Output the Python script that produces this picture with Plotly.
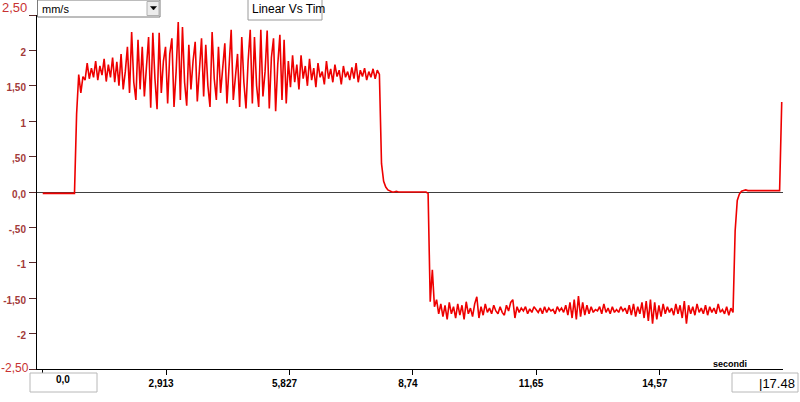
import plotly.graph_objects as go

# ---------------- data ----------------
SAMPLE_PERIOD_S = 0.05  # time between samples, seconds

idle_start = [-0.02, -0.02, -0.01, -0.02, -0.02, -0.02, -0.01, -0.02,
              -0.02, -0.02, -0.01, -0.02, -0.02, -0.02, -0.01, -0.02]
rise_up = [1.10, 1.66, 1.40, 1.63]
forward_run = [
    1.58, 1.82, 1.60, 1.75, 1.62, 1.85, 1.58, 1.78, 1.65, 1.88, 1.56, 1.80, 1.62, 1.90, 1.55, 1.84, 1.50,
    1.95, 1.45, 1.70, 2.05, 1.40, 2.26, 1.55, 1.30, 2.15, 1.45, 2.05, 1.35, 1.75, 2.19, 1.19, 2.25,
    1.60, 1.17, 2.25, 1.40, 1.85, 2.05, 1.25, 1.95, 2.17, 1.20, 1.70, 2.40, 1.30, 2.33, 1.55, 1.22,
    2.08, 1.45, 1.85, 2.12, 1.28, 1.75, 2.17, 1.35, 2.08, 1.50, 1.20, 2.26, 1.60, 1.30, 2.05, 1.40,
    1.75, 2.10, 1.25, 1.80, 2.29, 1.30, 1.65, 1.95, 1.20, 2.19, 1.55, 1.18, 1.85, 2.29, 1.25, 2.19,
    1.50, 1.20, 2.29, 1.35, 1.70, 2.28, 1.18, 1.90, 2.17, 1.14, 1.80, 2.22, 1.30, 2.15, 1.25, 1.85,
    1.48, 1.93, 1.55, 1.80, 1.45, 1.93, 1.60, 1.78, 1.50, 1.88,
    1.58, 1.75, 1.48, 1.82, 1.62, 1.70, 1.52, 1.85, 1.60, 1.74, 1.55, 1.80, 1.63, 1.72, 1.52, 1.78,
    1.62, 1.70, 1.58, 1.76, 1.60, 1.82, 1.55, 1.72, 1.63, 1.75, 1.58, 1.70, 1.62, 1.74, 1.60, 1.72, 1.66,
]
stop_forward = [0.40, 0.15, 0.07, 0.03, 0.01]
idle_middle = [0.00, 0.00, 0.01, 0.00, 0.00, 0.00, 0.01, 0.00, 0.00,
               0.00, 0.00, 0.01, 0.00, 0.00, 0.00, 0.00, 0.00, -0.02]
start_reverse = [-1.55, -1.10, -1.62, -1.52]
reverse_run = [
    -1.72, -1.58, -1.76, -1.60, -1.80, -1.56, -1.72, -1.62, -1.78, -1.58,
    -1.74, -1.60, -1.80, -1.55, -1.72, -1.64, -1.76, -1.58, -1.48, -1.78,
    -1.62, -1.74, -1.58, -1.70, -1.64, -1.72, -1.60, -1.68, -1.72, -1.62,
    -1.70, -1.74, -1.60, -1.68, -1.56, -1.52, -1.78, -1.62, -1.70, -1.64,
    -1.68, -1.62, -1.72, -1.65, -1.70, -1.62, -1.67, -1.70, -1.64, -1.72,
    -1.62, -1.70, -1.64, -1.68, -1.66, -1.72, -1.62, -1.68, -1.64, -1.70,
    -1.60, -1.74, -1.56, -1.78, -1.52, -1.80, -1.47, -1.76, -1.56, -1.74,
    -1.60, -1.72, -1.62, -1.70, -1.66, -1.68, -1.62, -1.72, -1.58, -1.70,
    -1.64, -1.72, -1.62, -1.70, -1.66, -1.70, -1.62, -1.68, -1.64, -1.72,
    -1.60, -1.74, -1.58, -1.76, -1.62, -1.72, -1.56, -1.78, -1.54, -1.82,
    -1.52, -1.86, -1.56, -1.80, -1.60, -1.76, -1.58, -1.72, -1.62, -1.70,
    -1.64, -1.74, -1.58, -1.72, -1.60, -1.78, -1.54, -1.86, -1.60, -1.72,
    -1.62, -1.74, -1.58, -1.70, -1.64, -1.72, -1.60, -1.74, -1.62, -1.70,
    -1.64, -1.72, -1.58, -1.70, -1.66, -1.72, -1.62, -1.74, -1.64, -1.70,
]
stop_reverse = [-0.55, -0.12, -0.03]
idle_end = [0.01, 0.02, 0.03, 0.02, 0.02, 0.02, 0.02, 0.02, 0.01, 0.02,
            0.02, 0.02, 0.02, 0.02, 0.02, 0.02, 0.02, 0.02, 0.02]
final_spike = [1.27]

y_tick_values = [2.5, 2, 1.5, 1, 0.5, 0, -0.5, -1, -1.5, -2, -2.5]
y_tick_labels = ["", "2", "1,50", "1", ",50", "0,0", "-,50", "-1", "-1,50", "-2", ""]
x_tick_values = [0, 2.913, 5.827, 8.74, 11.65, 14.57]
x_tick_labels = ["", "2,913", "5,827", "8,74", "11,65", "14,57"]

speed = (idle_start + rise_up + forward_run + stop_forward + idle_middle
         + start_reverse + reverse_run + stop_reverse + idle_end + final_spike)
time_s = [i * SAMPLE_PERIOD_S for i in range(len(speed))]

# ---------------- figure ----------------
W, H = 800, 402
ML, MR, MT, MB = 37, 17, 15, 33
PW, PH = W - ML - MR, H - MT - MB

def px(x):
    return (x - ML) / PW

def py(y):
    return (H - MB - y) / PH

fig = go.Figure()
fig.add_trace(go.Scatter(x=time_s, y=speed, mode="lines",
                         line=dict(color="#ee0000", width=1.6),
                         hoverinfo="skip", showlegend=False))

font = "Liberation Sans, Arial, sans-serif"
fig.update_layout(
    width=W, height=H, margin=dict(l=ML, r=MR, t=MT, b=MB, autoexpand=False),
    paper_bgcolor="white", plot_bgcolor="white", showlegend=False,
    font=dict(family=font),
    xaxis=dict(range=[-0.135, 17.48], showgrid=False, zeroline=False, automargin=False,
               showline=True, linecolor="black", linewidth=1,
               ticks="outside", ticklen=5, tickcolor="black", tickwidth=1,
               tickvals=x_tick_values, ticktext=x_tick_labels,
               tickfont=dict(size=10, color="black", family=font, weight="bold"),
               ticklabelshift=-5, ticklabelstandoff=0),
    yaxis=dict(range=[-2.5, 2.5], showgrid=False, automargin=False,
               zeroline=True, zerolinecolor="#404040", zerolinewidth=1,
               showline=True, linecolor="black", linewidth=1,
               ticks="outside", ticklen=7, tickcolor="#5a2a2a", tickwidth=1,
               tickvals=y_tick_values, ticktext=y_tick_labels,
               tickfont=dict(size=10, color="#a33a3a", family=font, weight="bold"),
               ticklabelshift=2, ticklabelstandoff=1),
)

def box(x0, y0, x1, y1, line="#a0a0a0", fill="white"):
    fig.add_shape(type="rect", xref="paper", yref="paper",
                  x0=px(x0), x1=px(x1), y0=py(y1), y1=py(y0),
                  line=dict(color=line, width=1), fillcolor=fill, layer="above")

def text(s, x, y, size=10, color="black", xanchor="left", weight="normal"):
    fig.add_annotation(text=s, xref="paper", yref="paper", x=px(x), y=py(y),
                       xanchor=xanchor, yanchor="middle", showarrow=False,
                       font=dict(size=size, color=color, family=font, weight=weight))

# unit dropdown
box(37.5, 0, 160, 17, line="#7a7a7a")
box(147, 1.5, 159, 15.5, line="#b0b0b0", fill="#ececec")
fig.add_shape(type="path", xref="paper", yref="paper",
              path=f"M {px(150.5)},{py(6.5)} L {px(156.5)},{py(6.5)} L {px(153.5)},{py(10)} Z",
              fillcolor="black", line=dict(color="black", width=0.5), layer="above")
text("mm/s", 40, 9, size=11)

# chart mode box
box(248, -1, 322, 20, line="#9a9a9a")
text("Linear Vs Tim", 250, 9, size=12)

# y range end labels
text("2,50", 29, 8, size=13, color="#c83232", xanchor="right")
text("-2,50", 31, 368, size=12, color="#c83232", xanchor="right")

# x range boxes
box(30, 373, 97, 392, line="#b8b8b8")
text("0,0", 63, 379, size=10, xanchor="center", weight="bold")
box(732, 373, 798, 392, line="#b8b8b8")
text("|17.48", 797, 383, size=13, xanchor="right")
text("secondi", 730, 364, size=9, xanchor="center", weight="bold")

fig.write_html(
    "out.html",
    config={"displayModeBar": False},
    post_script="document.body.style.margin='0';document.body.style.overflow='hidden';",
)
